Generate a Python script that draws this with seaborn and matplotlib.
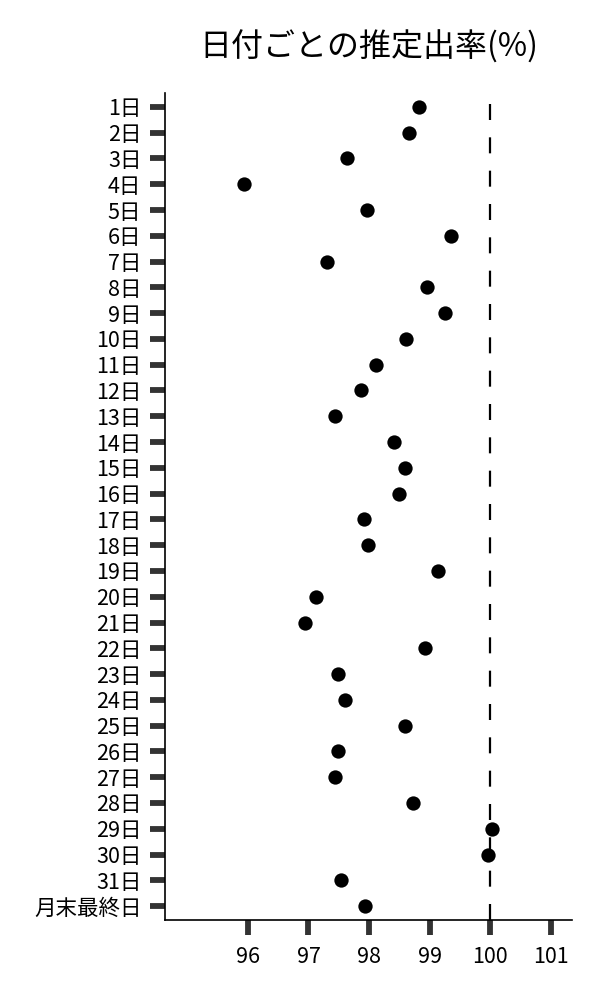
import matplotlib
matplotlib.use("Agg")
import matplotlib.pyplot as plt
import pandas as pd
import seaborn as sns

# values
days = [f"{i}日" for i in range(1, 32)] + ["月末最終日"]
rates = [
    98.82, 98.66, 97.64, 95.94, 97.96, 99.35, 97.31, 98.96, 99.25, 98.61,
    98.11, 97.87, 97.43, 98.41, 98.60, 98.49, 97.91, 97.98, 99.14, 97.13,
    96.94, 98.92, 97.49, 97.60, 98.60, 97.49, 97.43, 98.73, 100.04, 99.96,
    97.53, 97.93,
]
x_ticks = [96, 97, 98, 99, 100, 101]
reference_rate = 100
title = "日付ごとの推定出率(%)"

sns.set_style("ticks")
plt.rcParams["font.family"] = ["Noto Sans CJK JP", "DejaVu Sans"]
plt.rcParams["text.color"] = "black"

df = pd.DataFrame({"day": days, "rate": rates})

fig = plt.figure(figsize=(6, 10), dpi=100)
ax = fig.add_axes([0.275, 0.08, 0.678, 0.827])

sns.stripplot(data=df, x="rate", y="day", order=days, jitter=False,
              color="black", size=10.3, linewidth=0, ax=ax)

ax.axvline(reference_rate, color="black", lw=1.6, ls=(0, (7.2, 7.8)), zorder=0)

ax.set_xlim(94.63, 101.35)
ax.set_ylim(len(days) - 0.46, -0.54)
ax.set_xticks(x_ticks)
ax.set_xticklabels([str(t) for t in x_ticks])
ax.set_xlabel("")
ax.set_ylabel("")
ax.set_title(title, fontsize=23, pad=26, color="black")

ax.tick_params(axis="both", which="major", length=11, width=4.2,
               color="#333333", labelsize=15.5, labelcolor="black")
ax.tick_params(axis="x", pad=8)
ax.tick_params(axis="y", pad=6)

sns.despine(ax=ax)
for side in ["left", "bottom"]:
    ax.spines[side].set_linewidth(1.2)
    ax.spines[side].set_color("black")

fig.savefig("out.png", dpi=100)
plt.close(fig)
